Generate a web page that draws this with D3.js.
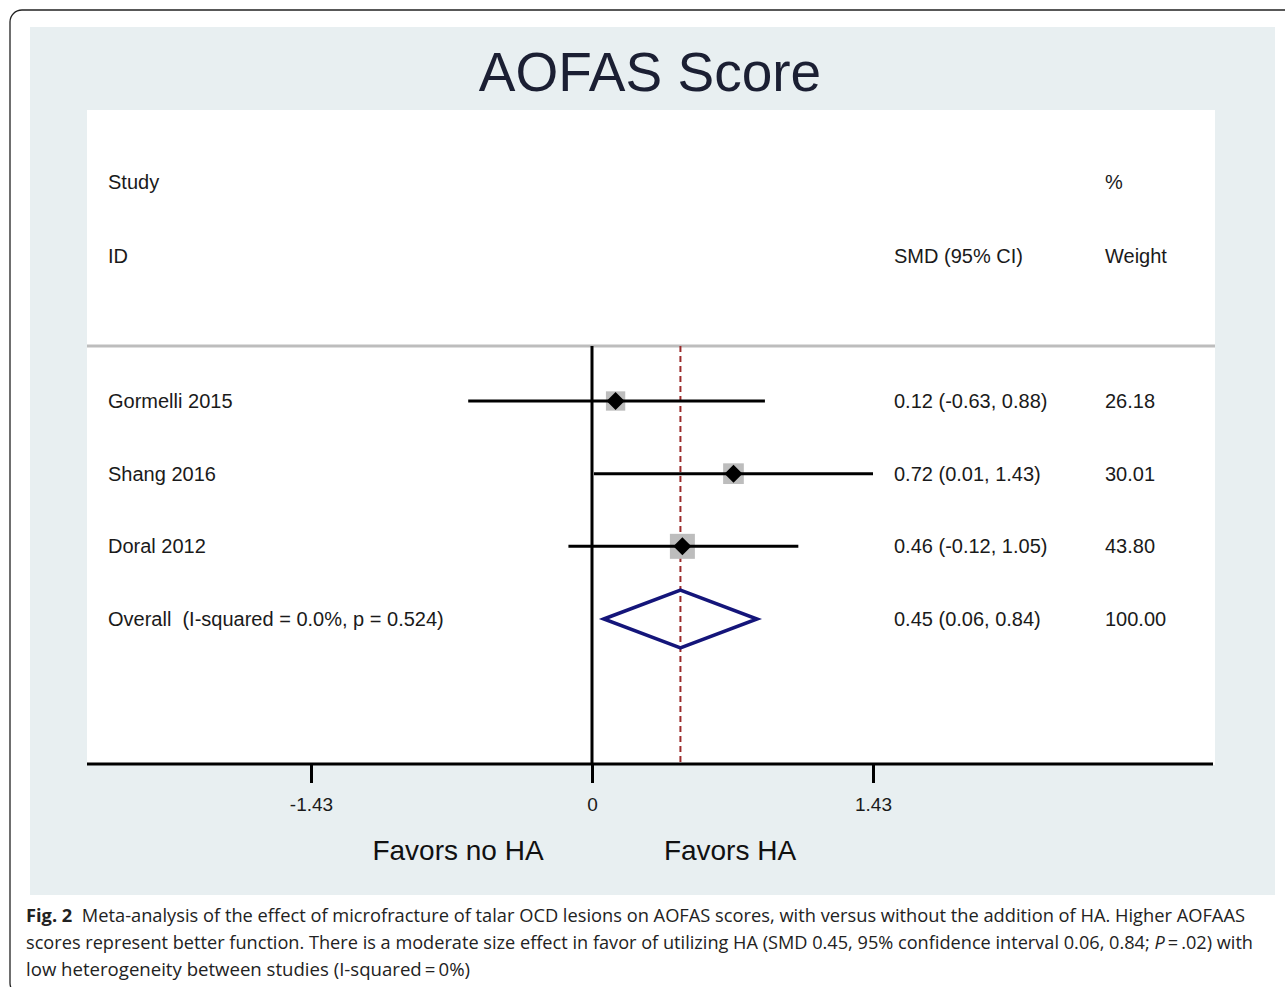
<!DOCTYPE html>
<html>
<head>
<meta charset="utf-8">
<script src="https://cdn.jsdelivr.net/npm/d3@7"></script>
<style>
  body { margin: 0; background: #fff; }
  svg { display: block; }
</style>
</head>
<body>
<div id="chart"></div>
<script>
// study data
const studies = ['Gormelli 2015', 'Shang 2016', 'Doral 2012'];
const smd = [0.12, 0.72, 0.46];
const lower = [-0.63, 0.01, -0.12];
const upper = [0.88, 1.43, 1.05];
const weights = [26.18, 30.01, 43.80];

// pooled estimate
const overall = {label: 'Overall  (I-squared = 0.0%, p = 0.524)', est: 0.45, lo: 0.06, hi: 0.84, weight: 100.00};

const tickValues = [-1.43, 0, 1.43];
const tickLabels = ['-1.43', '0', '1.43'];

const width = 1285;
const height = 987;

const svg = d3.select('#chart')
.append('svg')
.attr('width', width)
.attr('height', height);

// outer figure frame
svg.append('rect')
.attr('x', 10).attr('y', 10)
.attr('width', 1290).attr('height', 985)
.attr('rx', 12)
.attr('fill', '#fff')
.attr('stroke', '#222')
.attr('stroke-width', 1.3);

// grey-blue panel
svg.append('rect')
.attr('x', 30).attr('y', 27)
.attr('width', 1245).attr('height', 868)
.attr('fill', '#e8eff1');

// white plot area
svg.append('rect')
.attr('x', 87).attr('y', 110)
.attr('width', 1128).attr('height', 655)
.attr('fill', '#fff');

svg.append('text')
.attr('x', 650).attr('y', 91)
.attr('text-anchor', 'middle')
.attr('font-family', 'Liberation Sans, Arial, sans-serif')
.attr('font-size', 55)
.attr('fill', '#1b1f33')
.text('AOFAS Score');

const x = d3.scaleLinear()
.domain([0, 1.43])
.range([592, 873]);

const rows = studies.map((s, i) => ({label: s, est: smd[i], lo: lower[i], hi: upper[i], weight: weights[i]}));

const y = d3.scalePoint()
.domain(rows.map(d => d.label).concat([overall.label]))
.range([401, 619]);

const boxSize = d3.scaleSqrt()
.domain([0, d3.max(weights)])
.range([0, 25]);

const font = 'Liberation Sans, Arial, sans-serif';

// header
const header = svg.append('g')
.attr('font-family', font)
.attr('font-size', 20)
.attr('fill', '#1a1a1a');
header.append('text').attr('x', 108).attr('y', 189).text('Study');
header.append('text').attr('x', 108).attr('y', 263).text('ID');
header.append('text').attr('x', 894).attr('y', 263).text('SMD (95% CI)');
header.append('text').attr('x', 1105).attr('y', 189).text('%');
header.append('text').attr('x', 1105).attr('y', 263).text('Weight');

// separator under header
svg.append('line')
.attr('x1', 87).attr('x2', 1215)
.attr('y1', 346).attr('y2', 346)
.attr('stroke', '#bdbdbd')
.attr('stroke-width', 3);

// no-effect line
svg.append('line')
.attr('x1', x(0)).attr('x2', x(0))
.attr('y1', 346).attr('y2', 764)
.attr('stroke', '#000')
.attr('stroke-width', 3);

// pooled estimate line
svg.append('line')
.attr('x1', x(overall.est)).attr('x2', x(overall.est))
.attr('y1', 346).attr('y2', 764)
.attr('stroke', '#9b2a2a')
.attr('stroke-width', 2)
.attr('stroke-dasharray', '6,4');

const group = svg.selectAll('g.study')
.data(rows)
.enter()
.append('g')
.attr('class', 'study');

group.append('rect')
.attr('x', d => x(d.est) - boxSize(d.weight) / 2)
.attr('y', d => y(d.label) - boxSize(d.weight) / 2)
.attr('width', d => boxSize(d.weight))
.attr('height', d => boxSize(d.weight))
.attr('fill', '#bdbdbd');

group.append('line')
.attr('x1', d => x(d.lo)).attr('x2', d => x(d.hi))
.attr('y1', d => y(d.label)).attr('y2', d => y(d.label))
.attr('stroke', '#000')
.attr('stroke-width', 3);

group.append('path')
.attr('d', d => {
    const cx = x(d.est), cy = y(d.label), r = 9;
    return `M${cx},${cy - r}L${cx + r},${cy}L${cx},${cy + r}L${cx - r},${cy}Z`;
})
.attr('fill', '#000');

// overall diamond
const oy = y(overall.label);
svg.append('path')
.attr('d', `M${x(overall.lo)},${oy}L${x(overall.est)},${oy - 29}L${x(overall.hi)},${oy}L${x(overall.est)},${oy + 29}Z`)
.attr('fill', 'none')
.attr('stroke', '#14157a')
.attr('stroke-width', 3.5);

const allRows = rows.concat([overall]);
// plain hyphen for negatives, like the original
const fmt = v => d3.format('.2f')(v).replace('\u2212', '-');
const labels = svg.append('g')
.attr('font-family', font)
.attr('font-size', 20)
.attr('fill', '#1a1a1a');

labels.selectAll('text.lab')
.data(allRows)
.enter().append('text')
.attr('x', 108)
.attr('y', d => y(d.label) + 7)
.attr('xml:space', 'preserve')
.text(d => d.label);

labels.selectAll('text.ci')
.data(allRows)
.enter().append('text')
.attr('x', 894)
.attr('y', d => y(d.label) + 7)
.text(d => `${fmt(d.est)} (${fmt(d.lo)}, ${fmt(d.hi)})`);

labels.selectAll('text.w')
.data(allRows)
.enter().append('text')
.attr('x', 1105)
.attr('y', d => y(d.label) + 7)
.text(d => fmt(d.weight));

// x axis
const axis = d3.axisBottom(x)
.tickValues(tickValues)
.tickFormat((d, i) => tickLabels[i])
.tickSize(19)
.tickPadding(15);

const axisG = svg.append('g')
.attr('transform', 'translate(0,764)')
.call(axis);

axisG.select('.domain').remove();
axisG.selectAll('.tick line').attr('stroke', '#000').attr('stroke-width', 3);
axisG.selectAll('.tick text')
.attr('font-family', font)
.attr('font-size', 19)
.attr('fill', '#1a1a1a');

svg.append('line')
.attr('x1', 87).attr('x2', 1213)
.attr('y1', 764).attr('y2', 764)
.attr('stroke', '#000')
.attr('stroke-width', 3);

svg.append('text')
.attr('x', 458).attr('y', 860)
.attr('text-anchor', 'middle')
.attr('font-family', font)
.attr('font-size', 28)
.attr('fill', '#111')
.text('Favors no HA');

svg.append('text')
.attr('x', 730).attr('y', 860)
.attr('text-anchor', 'middle')
.attr('font-family', font)
.attr('font-size', 28)
.attr('fill', '#111')
.text('Favors HA');

// caption
const cap = svg.append('g')
.attr('font-family', 'Open Sans, sans-serif')
.attr('font-size', 18)
.attr('fill', '#222');

const l1 = cap.append('text').attr('x', 26).attr('y', 922)
.attr('textLength', 1219).attr('lengthAdjust', 'spacingAndGlyphs')
.attr('xml:space', 'preserve');
l1.append('tspan').attr('font-weight', 'bold').text('Fig. 2');
l1.append('tspan').text('  Meta-analysis of the effect of microfracture of talar OCD lesions on AOFAS scores, with versus without the addition of HA. Higher AOFAAS');

const l2 = cap.append('text').attr('x', 26).attr('y', 949)
.attr('textLength', 1227).attr('lengthAdjust', 'spacingAndGlyphs');
l2.append('tspan').text('scores represent better function. There is a moderate size effect in favor of utilizing HA (SMD 0.45, 95% confidence interval 0.06, 0.84; ');
l2.append('tspan').attr('font-style', 'italic').text('P');
l2.append('tspan').text('\u2009=\u2009.02) with');

cap.append('text').attr('x', 26).attr('y', 976)
.attr('textLength', 444).attr('lengthAdjust', 'spacingAndGlyphs')
.text('low heterogeneity between studies (I-squared\u2009=\u20090%)');
</script>
</body>
</html>
